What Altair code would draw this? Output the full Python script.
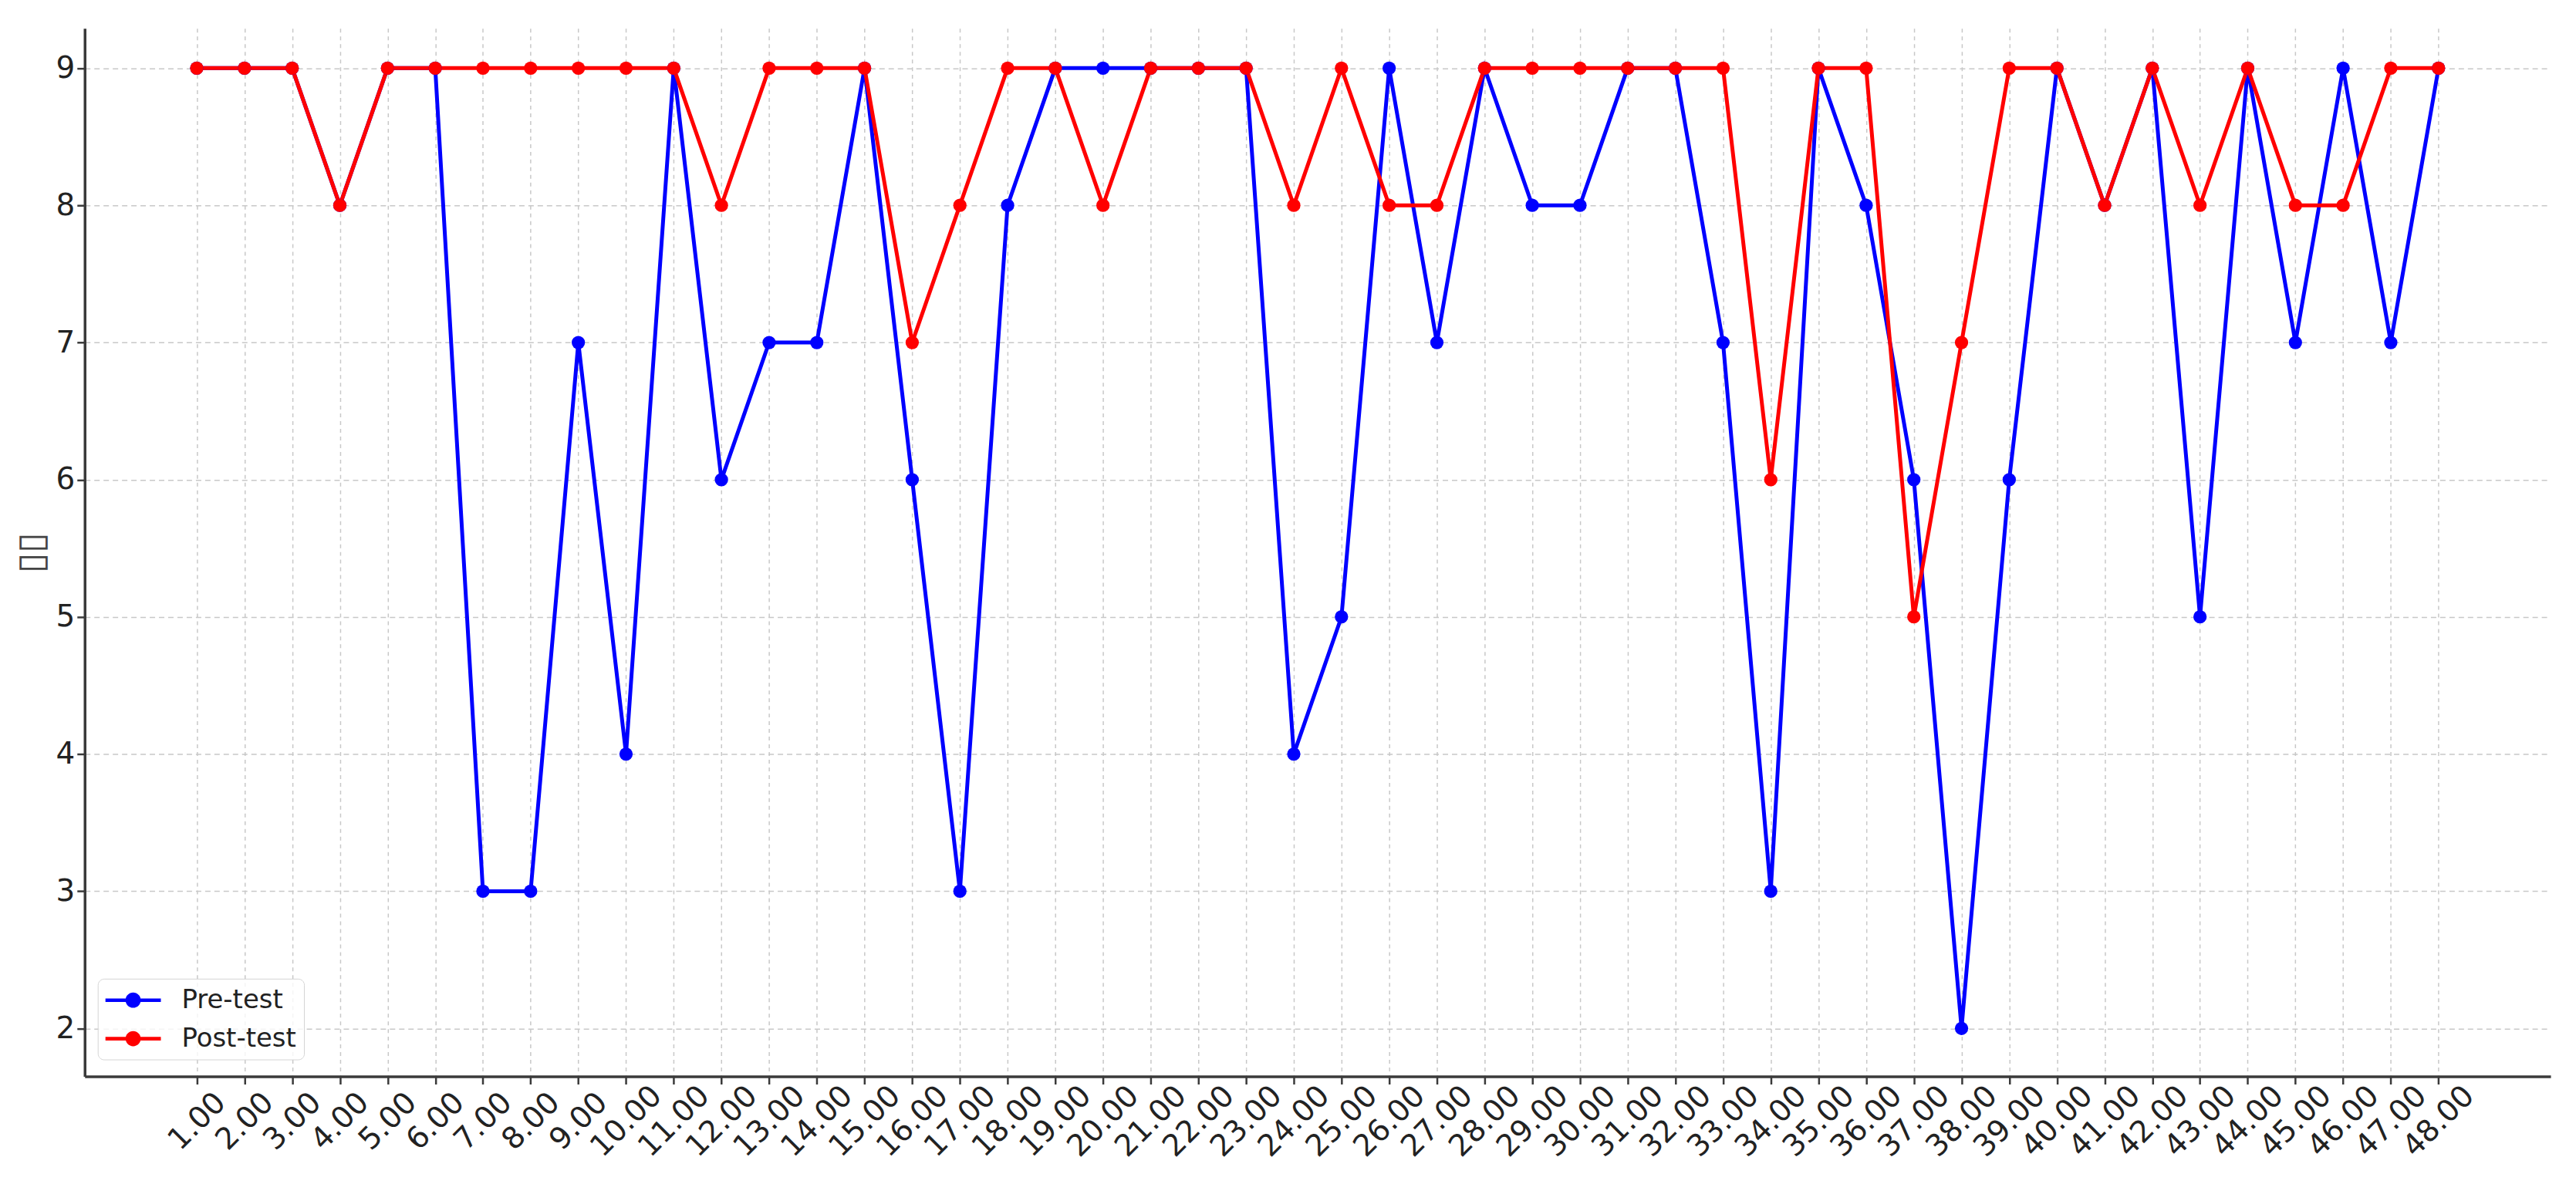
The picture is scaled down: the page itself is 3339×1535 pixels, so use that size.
import altair as alt
import pandas as pd

# item numbers and scores
items = list(range(1, 49))
pre_test = [9, 9, 9, 8, 9, 9, 3, 3, 7, 4,
            9, 6, 7, 7, 9, 6, 3, 8, 9, 9,
            9, 9, 9, 4, 5, 9, 7, 9, 8, 8,
            9, 9, 7, 3, 9, 8, 6, 2, 6, 9,
            8, 9, 5, 9, 7, 9, 7, 9]
post_test = [9, 9, 9, 8, 9, 9, 9, 9, 9, 9,
             9, 8, 9, 9, 9, 7, 8, 9, 9, 8,
             9, 9, 9, 8, 9, 8, 8, 9, 9, 9,
             9, 9, 9, 6, 9, 9, 5, 7, 9, 9,
             8, 9, 8, 9, 8, 8, 9, 9]
series = ["Pre-test", "Post-test"]
colors = ["#0000ff", "#ff0000"]
y_ticks = [2, 3, 4, 5, 6, 7, 8, 9]

df = pd.DataFrame({
    "item": items * 2,
    "score": pre_test + post_test,
    "group": [series[0]] * len(items) + [series[1]] * len(items),
})

W, H = 3204, 1362

# legend glyph: a line with a dot in the middle
legend_symbol = ("M-1,-0.13H3V0.13H-1Z "
                 "M1.55,0A0.55,0.55,0,1,1,0.45,0A0.55,0.55,0,1,1,1.55,0Z")

x = alt.X("item:Q",
          scale=alt.Scale(domain=[-1.35, 50.35], nice=False, zero=False),
          axis=alt.Axis(values=items, format=".2f", title=None,
                        labelAngle=-45, labelAlign="center", labelBaseline="middle",
                        labelPadding=48, labelOverlap=False, labelFlush=False,
                        gridDash=[5, 5]))
y = alt.Y("score:Q",
          scale=alt.Scale(domain=[1.65, 9.29], nice=False, zero=False),
          axis=alt.Axis(values=y_ticks, format="d", labelPadding=3,
                        gridDash=[7, 5],
                        title="▯▯", titleX=-68, titleY=H / 2, titleAngle=-90,
                        titleAlign="center", titleBaseline="middle"))

# one line layer per series, drawn blue first then red
line_layers = [
    alt.Chart(df).transform_filter(alt.datum.group == s)
    .mark_line(color=c, strokeWidth=5)
    .encode(x=x, y=y)
    for s, c in zip(series, colors)
]

points = alt.Chart(df).mark_circle(size=300, opacity=1).encode(
    x=x, y=y,
    color=alt.Color("group:N", scale=alt.Scale(domain=series, range=colors), sort=series,
                    legend=alt.Legend(title=None, orient="none", legendX=17, legendY=1235,
                                      symbolType=legend_symbol, symbolSize=1296,
                                      symbolStrokeWidth=0, symbolOpacity=1,
                                      labelFontSize=34, labelOffset=63,
                                      padding=10, rowPadding=15,
                                      labelColor="#222222", labelFont="DejaVu Sans",
                                      fillColor="rgba(255,255,255,0.8)",
                                      strokeColor="#d4d4d4", cornerRadius=8)),
)

chart = alt.layer(*line_layers, points).properties(
    width=W,
    height=H,
    padding={"left": 102, "top": 27, "right": 25, "bottom": 138},
    autosize=alt.AutoSizeParams(type="none"),
    background="white",
).configure_view(
    stroke=None
).configure_axis(
    labelFont="DejaVu Sans",
    labelFontSize=39,
    labelColor="#222222",
    titleFont="DejaVu Sans",
    titleFontSize=48,
    titleFontWeight="normal",
    titleColor="#444444",
    domainColor="#3a3a3a",
    domainWidth=3.5,
    tickColor="#3a3a3a",
    tickWidth=2.5,
    tickSize=10,
    gridColor="#c8c8c8",
    gridWidth=1.5,
)

chart.save("out.html", embed_options={"renderer": "svg", "actions": False})
